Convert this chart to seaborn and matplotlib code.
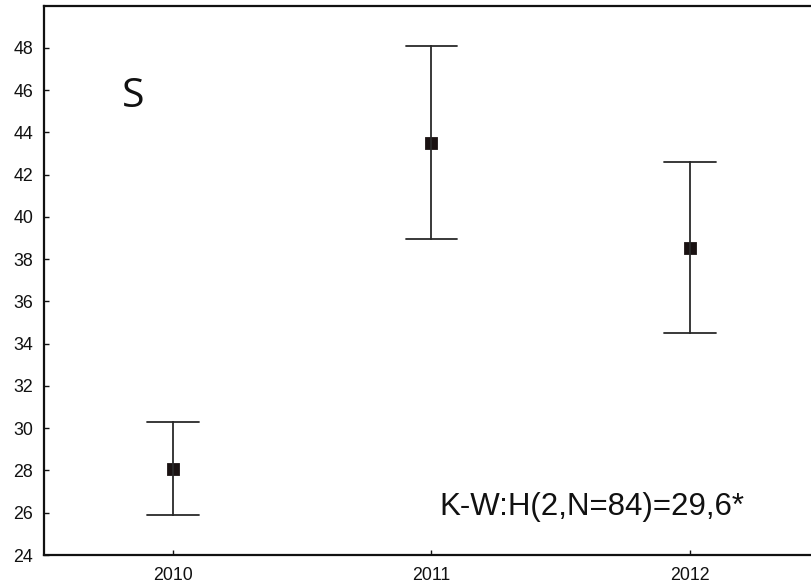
import matplotlib
matplotlib.use("Agg")
import matplotlib.pyplot as plt
import seaborn as sns
import pandas as pd
import numpy as np

years = ["2010", "2011", "2012"]
means = [28.05, 43.50, 38.52]
upper = [30.28, 48.09, 42.62]
lower = [25.88, 38.98, 34.50]
yticks = [24, 26, 28, 30, 32, 34, 36, 38, 40, 42, 44, 46, 48]
panel_label = "S"
stat_label = "K-W:H(2,N=84)=29,6*"

rows = []
for y, lo, m, hi in zip(years, lower, means, upper):
    for v in (lo, m, hi):
        rows.append({"year": y, "value": v})
df = pd.DataFrame(rows)

sns.set_theme(style="white")
plt.rcParams["font.family"] = ["Liberation Sans", "DejaVu Sans"]

fig = plt.figure(figsize=(8.12, 5.87), dpi=100)
ax = fig.add_axes([43.7 / 812, 1 - 555 / 587, (819.3 - 43.7) / 812, (555 - 5.7) / 587])

sns.pointplot(
    data=df, x="year", y="value", order=years,
    estimator="median", errorbar=("pi", 100),
    linestyle="none", marker="s", markersize=7.5,
    color="#1a1212", capsize=0.2,
    err_kws={"linewidth": 1.3, "color": "#2a2a2a"},
    ax=ax,
)

ax.set_xlim(-0.5, 2.5)
ax.set_ylim(24, 50)
ax.set_yticks(yticks)
ax.set_xlabel("")
ax.set_ylabel("")

for side in ["left", "top", "bottom"]:
    ax.spines[side].set_visible(True)
    ax.spines[side].set_color("#111111")
    ax.spines[side].set_linewidth(1.6)
ax.spines["right"].set_visible(False)

ax.tick_params(axis="y", direction="in", length=3.5, width=1, color="#111111",
               labelsize=12.8, labelcolor="#111111", pad=7.5, left=True)
ax.tick_params(axis="x", direction="in", length=3.5, width=1, color="#111111",
               labelsize=12.8, labelcolor="#111111", pad=9, bottom=True)

ax.text(-0.156, 45.71, panel_label,
        ha="center", va="center", fontsize=29.5, family=["Open Sans", "DejaVu Sans"], color="#111111")
ax.text(2.212, 25.89, stat_label, ha="right", va="baseline", fontsize=22.5, color="#111111")

fig.savefig("out.png", dpi=100)
